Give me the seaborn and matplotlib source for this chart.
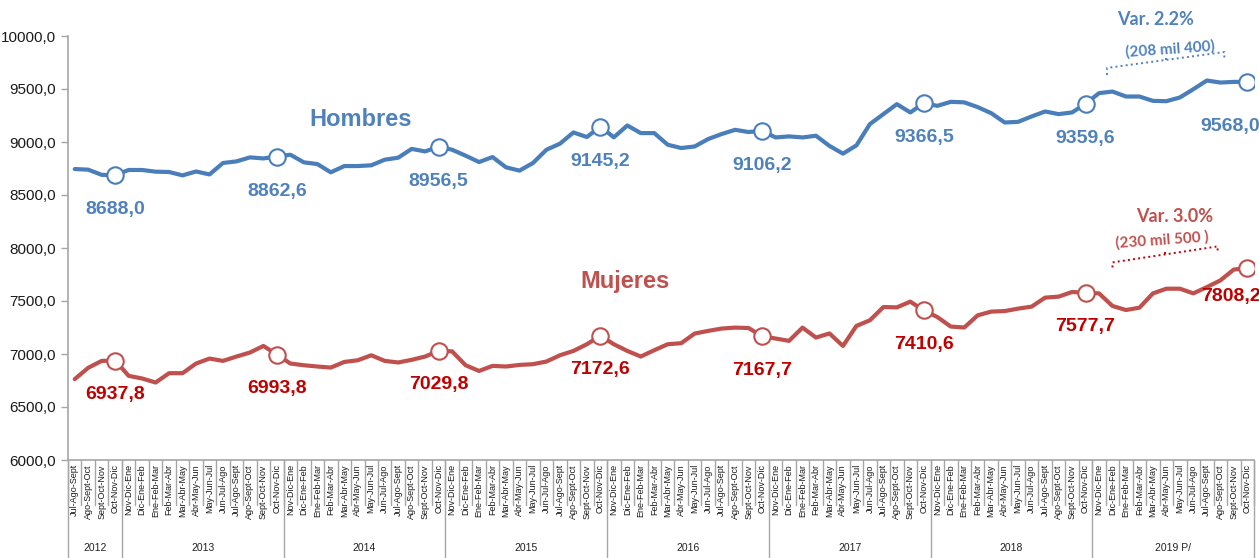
import numpy as np
import pandas as pd
import matplotlib
matplotlib.use("Agg")
import matplotlib.pyplot as plt
import matplotlib.transforms as mtransforms
import seaborn as sns

# ---------------- data ----------------
years = ["2012", "2013", "2014", "2015", "2016", "2017", "2018", "2019 P/"]
year_counts = [4, 12, 12, 12, 12, 12, 12, 12]
periods_full = ["Nov-Dic-Ene", "Dic-Ene-Feb", "Ene-Feb-Mar", "Feb-Mar-Abr", "Mar-Abr-May",
                "Abr-May-Jun", "May-Jun-Jul", "Jun-Jul-Ago", "Jul-Ago-Sept", "Ago-Sept-Oct",
                "Sept-Oct-Nov", "Oct-Nov-Dic"]
periods = periods_full[8:] + periods_full * 7

hombres = [8745, 8739, 8690, 8688.0, 8736, 8736, 8720, 8717, 8685, 8722, 8694, 8802,
           8817, 8855, 8845, 8862.6, 8880, 8808, 8792, 8714, 8773, 8773, 8780, 8833,
           8852, 8935, 8911, 8956.5, 8927, 8871, 8811, 8858, 8761, 8730, 8802, 8927,
           8984, 9090, 9047, 9145.2, 9044, 9156, 9084, 9084, 8974, 8943, 8958, 9028,
           9075, 9115, 9094, 9106.2, 9043, 9053, 9043, 9059, 8963, 8890, 8968, 9169,
           9263, 9357, 9279, 9366.5, 9341, 9379, 9374, 9329, 9272, 9184, 9190, 9241,
           9288, 9263, 9279, 9359.6, 9461, 9476, 9429, 9429, 9388, 9385, 9420, 9498,
           9580, 9561, 9567, 9568.0]
mujeres = [6763, 6870, 6935, 6937.8, 6794, 6769, 6731, 6819, 6819, 6910, 6957, 6935,
           6976, 7014, 7076, 6993.8, 6910, 6894, 6882, 6872, 6925, 6941, 6988, 6935,
           6920, 6945, 6976, 7029.8, 7025, 6894, 6840, 6888, 6882, 6897, 6904, 6929,
           6988, 7029, 7092, 7172.6, 7092, 7029, 6976, 7036, 7092, 7102, 7193, 7218,
           7240, 7249, 7245, 7167.7, 7146, 7124, 7249, 7155, 7194, 7076, 7265, 7318,
           7443, 7440, 7494, 7410.6, 7349, 7259, 7250, 7365, 7400, 7405, 7428, 7447,
           7532, 7541, 7585, 7577.7, 7572, 7453, 7415, 7437, 7572, 7616, 7616, 7572,
           7631, 7694, 7797, 7808.2]
y_ticks = [6000, 6500, 7000, 7500, 8000, 8500, 9000, 9500, 10000]

# ---------------- style ----------------
sns.set_style("white")
SANS = ["Liberation Sans", "DejaVu Sans"]
plt.rcParams["font.family"] = SANS

BLUE = "#4A7EBB"
BLUE_TXT = "#4F81BD"
RED = "#C0504D"
RED_TXT = "#C00000"
GRAY = "#A6A6A6"

n = len(periods)
idx = np.arange(n)
df = pd.DataFrame({
    "idx": np.concatenate([idx, idx]),
    "valor": hombres + mujeres,
    "serie": ["Hombres"] * n + ["Mujeres"] * n,
})

fig = plt.figure(figsize=(12.59, 5.58), dpi=100)
ax = fig.add_axes([68 / 1259, 1 - 460 / 558, (1254 - 68) / 1259, (460 - 36) / 558])

sns.lineplot(data=df, x="idx", y="valor", hue="serie",
             palette={"Hombres": BLUE, "Mujeres": RED}, linewidth=3.0,
             legend=False, ax=ax, zorder=2)

# markers at Oct-Nov-Dic points
mark_idx = [i for i, p in enumerate(periods) if p == "Oct-Nov-Dic"]
for series, col, tcol in [(hombres, BLUE, BLUE_TXT), (mujeres, RED, RED_TXT)]:
    mv = [series[i] for i in mark_idx]
    sns.scatterplot(x=mark_idx, y=mv, ax=ax, s=140, color="white",
                    edgecolor=col, linewidth=1.5, zorder=3, legend=False)
    for k, i in enumerate(mark_idx):
        last = (k == len(mark_idx) - 1)
        dx = -12 if last else 0
        if series is hombres:
            dy = -32 if last else -25
        else:
            dy = -20 if last else -24.5
        ax.annotate(f"{series[i]:.1f}".replace(".", ","), (i, series[i]),
                    xytext=(dx, dy), textcoords="offset points",
                    ha="center", va="center", fontsize=14, fontweight="bold",
                    color=tcol, family=SANS)

ax.set_xlim(-0.5, n - 0.5)
ax.set_ylim(6000, 10000)
ax.set_yticks(y_ticks)
ax.set_yticklabels([f"{v:.1f}".replace(".", ",") for v in y_ticks],
                   fontsize=11, family=SANS, color="#1a1a1a")
ax.tick_params(axis="y", which="both", left=True, length=5, width=1,
               color=GRAY, pad=4)
ax.set_xticks(idx)
ax.set_xticklabels(periods, rotation=90, fontsize=6.5, family=SANS,
                   va="top", ha="center", color="#1a1a1a")
ax.tick_params(axis="x", length=0, pad=3)
ax.set_xlabel("")
ax.set_ylabel("")
for s in ["top", "right"]:
    ax.spines[s].set_visible(False)
for s in ["left", "bottom"]:
    ax.spines[s].set_color(GRAY)
    ax.spines[s].set_linewidth(1.2)

# category box separators
trans = mtransforms.blended_transform_factory(ax.transData, ax.transAxes)
for b in range(n + 1):
    ax.plot([b - 0.5, b - 0.5], [0, -0.106], transform=trans, color=GRAY,
            lw=1.0, clip_on=False)
bounds = np.concatenate([[0], np.cumsum(year_counts)])
for b in bounds:
    ax.plot([b - 0.5, b - 0.5], [0, -0.25], transform=trans, color=GRAY,
            lw=1.0, clip_on=False)
for y, a, b in zip(years, bounds[:-1], bounds[1:]):
    ax.text((a + b - 1) / 2, -0.207, y, transform=trans, ha="center",
            va="center", fontsize=7.5, family=SANS, color="#222222")

# series names
ax.text(21.2, 9210, "Hombres", ha="center", va="center", fontsize=17,
        fontweight="bold", color=BLUE_TXT, family=SANS)
ax.text(40.8, 7685, "Mujeres", ha="center", va="center", fontsize=17,
        fontweight="bold", color=RED, family=SANS)

# variation annotations
LATO = ["Lato", "DejaVu Sans"]
ax.text(80.2, 10160, "Var. 2.2%", ha="center", va="center", fontsize=13,
        fontweight="bold", color=BLUE_TXT, family=LATO, clip_on=False)
ax.text(81.3, 9872, "(208 mil 400)", ha="center", va="center", fontsize=11,
        fontweight="bold", color=BLUE_TXT, family=LATO, rotation=4)
ax.plot([76.6, 76.6, 85.3, 85.3], [9633, 9699, 9849, 9793], ls=":", lw=1.4,
        color=BLUE_TXT)
ax.plot([81.0, 81.0], [9774, 9810], ls=":", lw=1.4, color=BLUE_TXT)

ax.text(81.6, 8297, "Var. 3.0%", ha="center", va="center", fontsize=13,
        fontweight="bold", color=RED, family=LATO)
ax.text(80.7, 8070, "(230 mil 500 )", ha="center", va="center", fontsize=11,
        fontweight="bold", color=RED, family=LATO, rotation=4)
ax.plot([77.0, 77.0, 84.8, 84.8], [7817, 7864, 8015, 7967], ls=":", lw=1.4,
        color=RED_TXT)
ax.plot([80.9, 80.9], [7940, 7975], ls=":", lw=1.4, color=RED_TXT)

fig.savefig("out.png", dpi=100)
